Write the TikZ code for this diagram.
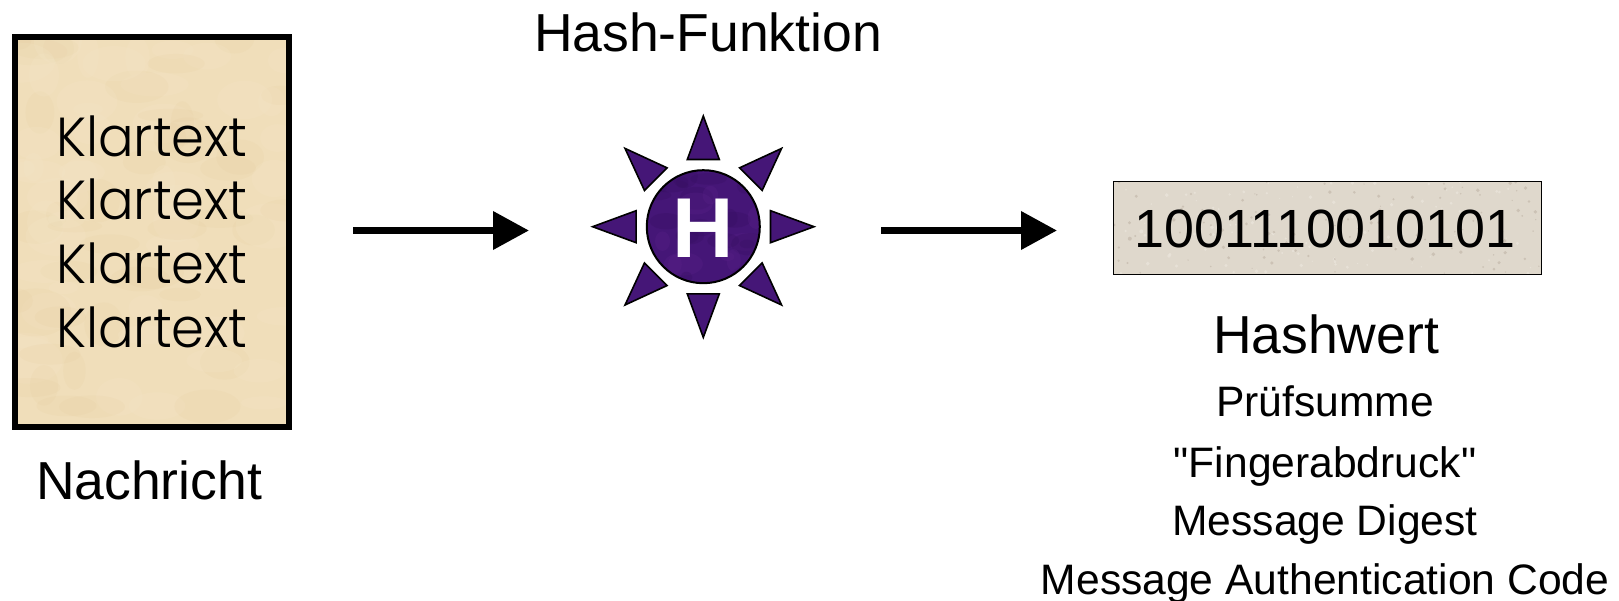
\documentclass[tikz,border=0pt]{standalone}
\usepackage{fontspec}
\setmainfont{Liberation Sans}
\newfontfamily\plainfont{Liberation Sans}
\newfontfamily\klarfont[UprightFont=* Light,FakeStretch=0.96]{Poppins}
\usetikzlibrary{arrows.meta}
\definecolor{parch}{HTML}{F0DEBA}
\definecolor{parchd}{HTML}{E3C795}
\definecolor{parchl}{HTML}{F6E9CC}
\definecolor{stone}{HTML}{DFD8CC}
\definecolor{stoned}{HTML}{B5A89A}
\definecolor{stonel}{HTML}{EBE6DC}
\definecolor{hpurple}{HTML}{451677}
\definecolor{hpurpled}{HTML}{360F60}
\definecolor{hpurplel}{HTML}{5A2288}
\tikzset{
  biglabel/.style={font=\fontsize{53.5}{53.5}\selectfont,anchor=base,inner sep=0pt},
  smalllabel/.style={font=\plainfont\fontsize{42.6}{42.6}\selectfont,anchor=base,inner sep=0pt},
  klartext/.style={font=\klarfont\fontsize{55}{55}\selectfont,anchor=base,inner sep=0pt},
  flowarrow/.style={line width=7pt,-{Triangle[length=36pt,width=37pt]},black},
  ray/.style={draw=black,line width=1.6pt,fill=hpurple,line join=miter},
}
\begin{document}
\begin{tikzpicture}[x=1pt,y=-1pt]
\useasboundingbox (0,0) rectangle (1619,601);
% message sheet
\fill[parch] (15,37.5) rectangle (289,426.5);
\begin{scope}
  \clip (15,37.5) rectangle (289,426.5);
  \pgfmathsetseed{41}
  \foreach \i in {1,...,90}{
    \pgfmathsetmacro{\px}{15+rnd*274}
    \pgfmathsetmacro{\py}{37+rnd*390}
    \pgfmathsetmacro{\rx}{10+rnd*26}
    \pgfmathsetmacro{\ry}{6+rnd*18}
    \pgfmathsetmacro{\pick}{rnd}
    \ifdim\pick pt<0.5pt
      \fill[parchd,opacity=0.12] (\px,\py) ellipse ({\rx} and {\ry});
    \else
      \fill[parchl,opacity=0.18] (\px,\py) ellipse ({\rx} and {\ry});
    \fi
  }
\end{scope}
\node[draw=black,line width=6pt,minimum width=274pt,minimum height=389pt,inner sep=0pt] (sheet) at (152,232) {};
\node[klartext] (k1) at (152,157) {Klartext};
\node[klartext] (k2) at (152,220) {Klartext};
\node[klartext] (k3) at (152,284) {Klartext};
\node[klartext] (k4) at (152,348) {Klartext};
\node[biglabel] (nachricht) at (149,499) {Nachricht};
% title
\node[biglabel] (title) at (708,52) {Hash-Funktion};
% sun
\begin{scope}[shift={(703.3,226.7)}]
  \foreach \a in {0,45,...,315}{
    \draw[ray,rotate=\a] (0,-110.7) -- (16,-67.2) -- (-16,-67.2) -- cycle;
  }
  \fill[hpurple] (0,0) circle (56.5);
  \begin{scope}
    \clip (0,0) circle (56.5);
    \pgfmathsetseed{7}
    \foreach \i in {1,...,30}{
      \pgfmathsetmacro{\px}{-56+rnd*112}
      \pgfmathsetmacro{\py}{-56+rnd*112}
      \pgfmathsetmacro{\rx}{6+rnd*14}
      \pgfmathsetmacro{\ry}{4+rnd*8}
      \pgfmathsetmacro{\pick}{rnd}
      \ifdim\pick pt<0.5pt
        \fill[hpurpled,opacity=0.3] (\px,\py) ellipse ({\rx} and {\ry});
      \else
        \fill[hpurplel,opacity=0.3] (\px,\py) ellipse ({\rx} and {\ry});
      \fi
    }
  \end{scope}
  \node[circle,draw=black,line width=2pt,minimum size=113pt,inner sep=0pt] (sun) at (0,0) {};
  \node[anchor=base,inner sep=0pt,text=white,font=\fontsize{85}{85}\selectfont\bfseries] (hletter) at (0,31) {H};
\end{scope}
% digest box
\fill[stone] (1113.6,181.6) rectangle (1541.4,274.6);
\begin{scope}
  \clip (1113.6,181.6) rectangle (1541.4,274.6);
  \pgfmathsetseed{19}
  \foreach \i in {1,...,220}{
    \pgfmathsetmacro{\px}{1113+rnd*429}
    \pgfmathsetmacro{\py}{181+rnd*94}
    \pgfmathsetmacro{\rr}{0.6+rnd*1.4}
    \pgfmathsetmacro{\pick}{rnd}
    \ifdim\pick pt<0.5pt
      \fill[stoned,opacity=0.45] (\px,\py) circle (\rr);
    \else
      \fill[stonel,opacity=0.7] (\px,\py) circle (\rr);
    \fi
  }
\end{scope}
\node[draw=black,line width=1.3pt,minimum width=427.8pt,minimum height=93pt,inner sep=0pt] (digest) at (1327.5,228.1) {};
\node[anchor=base,inner sep=0pt,font=\fontsize{53.8}{53.8}\selectfont] (bits) at (1325,248) {1001110010101};
\node[biglabel] (hashwert) at (1326,354) {Hashwert};
\node[smalllabel] (l1) at (1325,416) {Prüfsumme};
\node[smalllabel] (l2) at (1325,477) {"Fingerabdruck"};
\node[smalllabel] (l3) at (1325,535) {Message Digest};
\node[smalllabel] (l4) at (1325,594) {Message Authentication Code};
% connectors
\coordinate (a1s) at (353,230.5);
\coordinate (a1e) at (529,230.5);
\coordinate (a2s) at (881,230.5);
\coordinate (a2e) at (1057,230.5);
\draw[flowarrow] (a1s) -- (a1e);
\draw[flowarrow] (a2s) -- (a2e);
\end{tikzpicture}
\end{document}
